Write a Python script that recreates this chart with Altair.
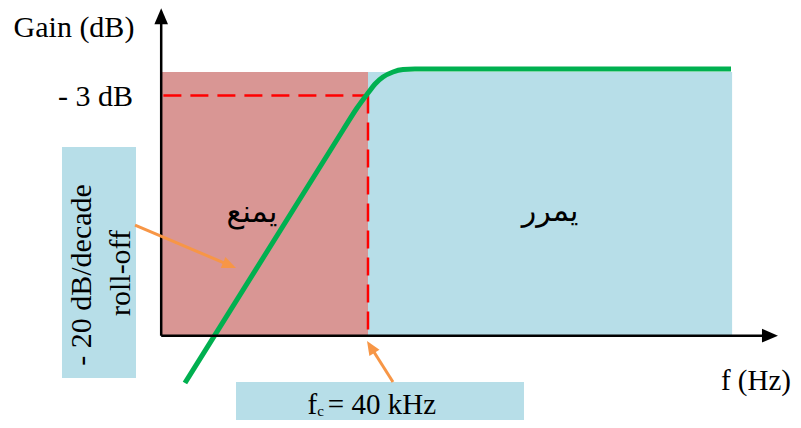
import altair as alt
import pandas as pd

# Diagram units: x = log10(f / fc) in decades, y = gain in dB
X_DOMAIN = [-3.2727, 3.8636]
Y_DOMAIN = [-39.886, 6.932]

# shaded bands (stop band / pass band)
band_names = ["stop", "pass"]
band_x0 = [-1.88, 0.0]
band_x1 = [0.0, 3.31]
band_y0 = [-30.3, -30.3]
band_y1 = [-0.34, -0.34]
band_colors = ["#D99694", "#B7DEE8"]

# green response curve
resp_u = [-1.664, -0.227, -0.1, 0.0, 0.064, 0.136, 0.227, 0.318, 0.427, 3.3]
resp_db = [-35.68, -6.93, -4.43, -2.73, -1.70, -0.91, -0.34, -0.06, 0.0, 0.0]

# -3 dB dashed guides
dash_x0 = [-1.86, 0.0]
dash_x1 = [0.0, 0.0]
dash_y0 = [-3.0, -3.0]
dash_y1 = [-3.0, -30.3]

# axes (lines and arrow tips)
axis_x0 = [-1.88, -1.88]
axis_x1 = [-1.88, 3.6]
axis_y0 = [-30.3, -30.3]
axis_y1 = [5.5, -30.3]
tip_x = [-1.88, 3.727]
tip_y = [6.9, -30.3]
tip_angle = [270, 0]

# callout boxes
box_x0 = [-2.782, -1.2]
box_x1 = [-2.109, 1.418]
box_y0 = [-35.11, -39.9]
box_y1 = [-8.86, -35.57]

# orange callout arrows
call_x0 = [-2.118, 0.227]
call_y0 = [-17.73, -35.57]
call_x1 = [-1.267, 0.03]
call_y1 = [-22.26, -31.68]
call_tip_x = [-1.2, -0.009]
call_tip_y = [-22.61, -30.91]
call_angle = [23, 238]

ARROW = "M0,0L-2,-0.85L-2,0.85Z"

XS = alt.Scale(domain=X_DOMAIN, nice=False, zero=False)
YS = alt.Scale(domain=Y_DOMAIN, nice=False, zero=False)


def X(f):
    return alt.X(f, type="quantitative", scale=XS, axis=None)


def Y(f):
    return alt.Y(f, type="quantitative", scale=YS, axis=None)


bands = alt.Chart(pd.DataFrame({"name": band_names, "x0": band_x0, "x1": band_x1,
                                "y0": band_y0, "y1": band_y1})).mark_rect().encode(
    x=X("x0"), x2="x1", y=Y("y0"), y2="y1",
    color=alt.Color("name:N", scale=alt.Scale(domain=band_names, range=band_colors), legend=None),
)

dashes = alt.Chart(pd.DataFrame({"x0": dash_x0, "x1": dash_x1, "y0": dash_y0, "y1": dash_y1})).mark_rule(
    color="#FF0000", strokeWidth=2.5, strokeDash=[18, 9]
).encode(x=X("x0"), x2="x1", y=Y("y0"), y2="y1")

resp = alt.Chart(pd.DataFrame({"u": resp_u, "db": resp_db, "i": list(range(len(resp_u)))})).mark_line(
    color="#00B050", strokeWidth=5, interpolate="monotone"
).encode(x=X("u"), y=Y("db"), order="i:Q")

axes = alt.Chart(pd.DataFrame({"x0": axis_x0, "x1": axis_x1, "y0": axis_y0, "y1": axis_y1})).mark_rule(
    color="black", strokeWidth=2.5
).encode(x=X("x0"), x2="x1", y=Y("y0"), y2="y1")

tips = alt.Chart(pd.DataFrame({"x": tip_x, "y": tip_y, "a": tip_angle})).mark_point(
    shape=ARROW, filled=True, color="black", size=256, opacity=1, strokeWidth=0
).encode(x=X("x"), y=Y("y"), angle=alt.Angle("a:Q", scale=None))

boxes = alt.Chart(pd.DataFrame({"x0": box_x0, "x1": box_x1, "y0": box_y0, "y1": box_y1})).mark_rect(
    color="#B7DEE8"
).encode(x=X("x0"), x2="x1", y=Y("y0"), y2="y1")

calls = alt.Chart(pd.DataFrame({"x0": call_x0, "x1": call_x1, "y0": call_y0, "y1": call_y1})).mark_rule(
    color="#F79646", strokeWidth=3
).encode(x=X("x0"), x2="x1", y=Y("y0"), y2="y1")

call_tips = alt.Chart(pd.DataFrame({"x": call_tip_x, "y": call_tip_y, "a": call_angle})).mark_point(
    shape=ARROW, filled=True, color="#F79646", size=196, opacity=1, strokeWidth=0
).encode(x=X("x"), y=Y("y"), angle=alt.Angle("a:Q", scale=None))

SERIF = "Liberation Serif"
FS = 30


def label(texts, xs, ys, **kw):
    return alt.Chart(pd.DataFrame({"t": texts, "x": xs, "y": ys})).mark_text(**kw).encode(
        x=X("x"), y=Y("y"), text="t:N")


t_gain = label(["Gain (dB)"], [-2.673], [3.6], font=SERIF, fontSize=FS, align="center", baseline="alphabetic", color="black")
t_3db = label(["- 3 dB"], [-2.136], [-4.2], font=SERIF, fontSize=FS, align="right", baseline="alphabetic", color="black")
t_fhz = label(["f (Hz)"], [3.845], [-36.48], font=SERIF, fontSize=29, align="right", baseline="alphabetic", color="black")
t_ar = label(["يمنع", "يمرر"], [-1.055, 1.655], [-16.36, -16.25], font="DejaVu Sans", fontSize=30,
             align="center", baseline="middle", color="black")
t_rot = label(["- 20 dB/decade", "roll-off"], [-2.6, -2.245], [-23.4, -23.18], font=SERIF, fontSize=FS,
              align="center", baseline="middle", angle=270, color="black")
t_f = label(["f"], [-0.55], [-39.2], font=SERIF, fontSize=29, align="left", baseline="alphabetic", color="black")
t_c = label(["c"], [-0.462], [-39.43], font=SERIF, fontSize=15, align="left", baseline="alphabetic", color="black")
t_eq = label(["= 40 kHz"], [-0.365], [-39.2], font=SERIF, fontSize=29, align="left", baseline="alphabetic", color="black")

chart = alt.layer(
    bands, dashes, resp, axes, tips, boxes, calls, call_tips,
    t_gain, t_3db, t_fhz, t_ar, t_rot, t_f, t_c, t_eq
).properties(
    width=785, height=412, autosize="none", padding=0, background="white"
).configure_view(stroke=None)

chart.save("out.html", embed_options={"renderer": "svg", "actions": False})
